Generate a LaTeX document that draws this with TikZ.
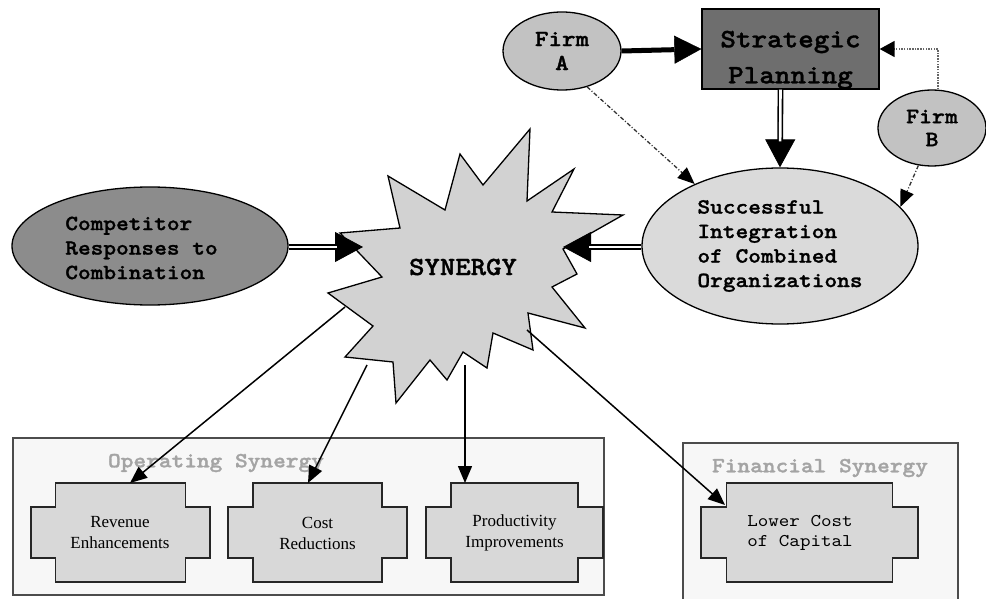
\documentclass[tikz,border=0pt]{standalone}
\usepackage{fontspec}
\setmainfont{Liberation Serif}
\newfontfamily\courb[FakeStretch=1.12,FakeBold=1.3]{lmmonolt10-bold.otf}
\newfontfamily\courr[FakeStretch=1.12]{lmmono10-regular.otf}
\usetikzlibrary{shapes.geometric,arrows.meta}
\definecolor{firmfill}{HTML}{C2C2C2}
\definecolor{spfill}{HTML}{6E6E6E}
\definecolor{succfill}{HTML}{DADADA}
\definecolor{compfill}{HTML}{8C8C8C}
\definecolor{starfill}{HTML}{D2D2D2}
\definecolor{boxbg}{HTML}{F7F7F7}
\definecolor{crossbg}{HTML}{D8D8D8}
\definecolor{labgray}{HTML}{A4A4A4}
\newcommand\xshapeat[3]{%
  \draw[xshape] ({#1-#3},483) -- ({#1+#3},483) -- ({#1+#3},507) -- ({#1+#2},507) -- ({#1+#2},558) -- ({#1+#3},558) -- ({#1+#3},582) -- ({#1-#3},582) -- ({#1-#3},558) -- ({#1-#2},558) -- ({#1-#2},507) -- ({#1-#3},507) -- cycle;}
\begin{document}
\begin{tikzpicture}[x=1pt,y=-1pt,
  mono/.style={font=\courb\fontsize{21.6}{24.5}\selectfont},
  ell/.style={ellipse, draw=black, line width=1.3pt, inner sep=0pt},
  grpbox/.style={draw=black!70, line width=1.8pt, fill=boxbg},
  grplabel/.style={text=labgray, font=\courb\fontsize{21.6}{24}\selectfont},
  xshape/.style={draw=black!85, fill=crossbg, line width=1.6pt},
  xtext/.style={align=center, font=\fontsize{17}{21}\selectfont},
  thinarr/.style={-{Triangle[length=17pt,width=14pt]}, line width=1.5pt},
  ddarr/.style={-{Triangle[length=17pt,width=14pt,color=black]}, line width=1.3pt, draw=black!80, dash pattern=on 4pt off 2pt on 1pt off 2pt},
  dotarr/.style={-{Triangle[length=15pt,width=16pt,color=black]}, line width=1.6pt, draw=black!60, dash pattern=on 1.5pt off 1.2pt},
  thickarr/.style={-{Triangle[length=27pt,width=28pt,line width=0.4pt]}, line width=5pt},
  bigtip/.style={-{Triangle[length=28pt,width=30pt]}, line width=0.8pt},
  dblline/.style={draw=black, line width=1.6pt, double=white, double distance=2.6pt, shorten >=26pt}
]
\useasboundingbox (0,0) rectangle (986,599);
\fill[white] (0,0) rectangle (986,599);

% group boxes
\draw[grpbox] (13,438) rectangle (604,595);
\draw[grpbox] (683,443) rectangle (958,612);
\node[grplabel] (oplab) at (216,463) {Operating Synergy};
\node[grplabel] (finlab) at (820,468) {Financial Synergy};

% cross shapes
\xshapeat{120.5}{89.5}{65}
\xshapeat{317.5}{89.5}{64.5}
\xshapeat{514.5}{88.5}{63.5}
\xshapeat{809.5}{108.5}{83}
\node[xtext] (rev) at (120,533) {Revenue\\Enhancements};
\node[xtext] (cost) at (317.5,533) {Cost\\Reductions};
\node[xtext] (prod) at (514.5,533) {Productivity\\Improvements};
\node[align=left, font=\courr\fontsize{17.9}{20}\selectfont] (low) at (800,533) {Lower Cost\\of Capital};

% starburst
\filldraw[fill=starfill, draw=black, line width=1.3pt, line join=miter]
  (530,129) -- (527,201) -- (574,169) -- (552,212) -- (623,215) -- (563,249) -- (577,274) -- (552,287) -- (585,328) -- (528,313) -- (533,350) -- (493,333) -- (487,368) -- (463,352) -- (447,380) -- (430,360) -- (396,403) -- (393,362) -- (345,357) -- (373,326) -- (328,293) -- (382,277) -- (340,233) -- (400,228) -- (388,176) -- (445,210) -- (460,154) -- (483,185) -- cycle;
\node[font=\courb\fontsize{26.2}{30}\selectfont] (syn) at (463,267) {SYNERGY};

% main nodes
\node[ell, fill=firmfill, minimum width=118pt, minimum height=78pt, align=center, font=\courb\fontsize{23}{24}\selectfont] (fa) at (562,51) {Firm\\A};
\node[ell, fill=firmfill, minimum width=108pt, minimum height=76pt, align=center, font=\courb\fontsize{22}{23}\selectfont] (fb) at (932,128) {Firm\\B};
\node[draw=black, line width=1.3pt, fill=spfill, minimum width=177pt, minimum height=80pt] (sp) at (790.5,49) {};
\node[align=center, font=\courb\fontsize{26.5}{36}\selectfont] (sptxt) at (790.5,60) {Strategic\\Planning};
\node[ell, fill=succfill, minimum width=276pt, minimum height=156pt] (succ) at (780,246) {};
\node[align=left, mono] (succtxt) at (780,246) {Successful\\Integration\\of Combined\\Organizations};
\node[ell, fill=compfill, minimum width=276pt, minimum height=118pt] (comp) at (150,246) {};
\node[align=left, mono] (comptxt) at (141.5,248) {Competitor\\Responses to\\Combination};

% coordinates
\coordinate (synL) at (363,247);
\coordinate (synR) at (563,247);
\coordinate (s1) at (345,307);
\coordinate (s2) at (367,365);
\coordinate (s3) at (465,365);
\coordinate (s4) at (527,330);
\coordinate (revT) at (130,483);
\coordinate (costT) at (308,483);
\coordinate (prodT) at (465,483);
\coordinate (lowT) at (725,505);

% connectors
\draw[thickarr] (fa.east) -- (sp.west);
\draw[bigtip] ([xshift=-10pt]sp.south) -- (succ.north);
\draw[dblline] ([xshift=-10pt]sp.south) -- (succ.north);
\draw[dotarr] ([xshift=6pt]fb.north) |- (sp.east);
\draw[ddarr] (fa.-55) -- (succ.144);
\draw[ddarr] (fb.250) -- (succ.18);
\draw[bigtip] (succ.west |- synR) -- (synR);
\draw[dblline] (succ.west |- synR) -- (synR);
\draw[bigtip] (comp.east |- synL) -- (synL);
\draw[dblline] (comp.east |- synL) -- (synL);
\draw[thinarr] (s1) -- (revT);
\draw[thinarr] (s2) -- (costT);
\draw[thinarr] (s3) -- (prodT);
\draw[thinarr] (s4) -- (lowT);
\end{tikzpicture}
\end{document}
